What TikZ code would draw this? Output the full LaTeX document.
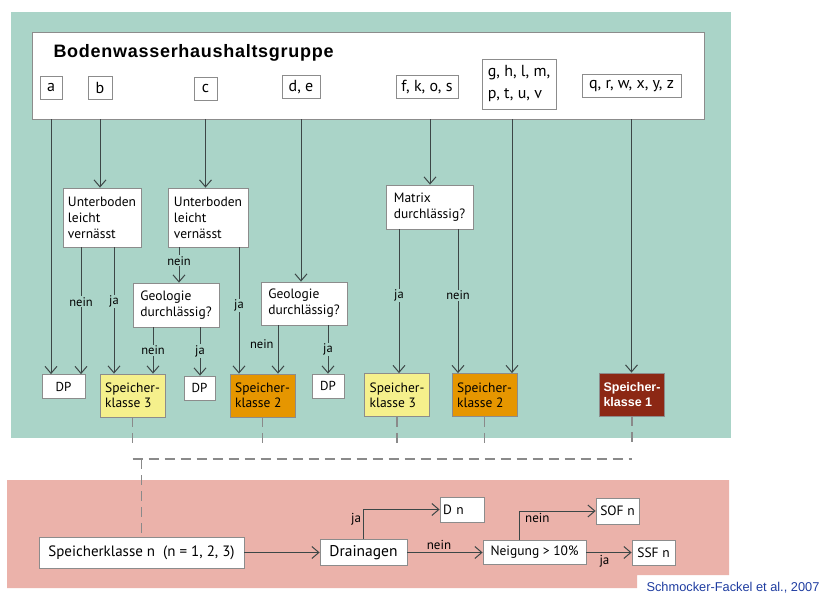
\documentclass[tikz,border=0pt]{standalone}
\usepackage{fontspec}
\setmainfont{PT Sans}
\newfontfamily\arialfont{Liberation Sans}
\newfontfamily\titlefont{Liberation Sans}[LetterSpace=4]
\usetikzlibrary{arrows.meta}

\definecolor{bggreen}{HTML}{AAD4C8}
\definecolor{bgpink}{HTML}{EBB2AA}
\definecolor{klgelb}{HTML}{F5F08C}
\definecolor{klorange}{HTML}{E69600}
\definecolor{klrot}{HTML}{8C2814}
\definecolor{boxgray}{HTML}{8C8C8C}
\definecolor{linegray}{HTML}{3C4646}
\definecolor{dashgray}{HTML}{8A8A8A}
\definecolor{citeblue}{HTML}{1E3CA0}

\begin{document}
\begin{tikzpicture}[x=1pt,y=-1pt,
  box/.style={draw=boxgray, fill=white, line width=0.8pt, inner sep=0pt},
  grp/.style={box, font=\fontsize{16}{22}\selectfont, minimum height=23pt},
  ask/.style={box, align=left, font=\fontsize{13.5}{16}\selectfont, inner xsep=5pt},
  kl/.style={box, align=left, font=\fontsize{13.5}{15}\selectfont, minimum width=65pt, minimum height=43pt},
  dp/.style={box, font=\fontsize{13}{15}\selectfont, minimum height=24pt},
  unten/.style={box, font=\fontsize{13.5}{16}\selectfont},
  arr/.style={draw=linegray, line width=1pt, -{Straight Barb[length=7pt,width=12pt]}},
  lbl/.style={fill=bggreen, inner sep=1pt, font=\fontsize{12.5}{14}\selectfont},
  lblb/.style={inner sep=2pt, font=\fontsize{13}{14}\selectfont},
  dsh/.style={draw=dashgray, line width=1.2pt, dash pattern=on 10pt off 6pt},
]
\useasboundingbox (0,0) rectangle (830,594);

% Hintergrund
\fill[bggreen] (11,12) rectangle (731,438);
\fill[bgpink] (7,480) -- (729,480) -- (729,575) -- (637,575) -- (637,588) -- (7,588) -- cycle;

% Bodenwasserhaushaltsgruppe
\node[box, minimum width=672pt, minimum height=87pt] (top) at (368,75.5) {};
\node[anchor=west, font=\titlefont\bfseries\fontsize{18}{20}\selectfont] (title) at (50,53) {Bodenwasserhaushaltsgruppe};
\node[grp, minimum width=22pt] (ga) at (51,87.5) {a};
\node[grp, minimum width=24pt] (gb) at (100,87.5) {b};
\node[grp, minimum width=23pt] (gc) at (205.5,88.5) {c};
\node[grp, minimum width=38pt] (gde) at (301,87) {d, e};
\node[grp, minimum width=62pt] (gf) at (427,87) {f, k, o, s};
\node[grp, minimum width=74pt, minimum height=50pt, align=left] (gg) at (519,84) {g, h, l, m,\\p, t, u, v};
\node[grp, minimum width=99pt] (gq) at (631.5,86) {q, r, w, x, y, z};

% Fragen
\node[ask, minimum width=78pt, minimum height=59pt] (ub1) at (102,217.5) {Unterboden\\leicht\\vernässt};
\node[ask, minimum width=80pt, minimum height=59pt] (ub2) at (208,217.5) {Unterboden\\leicht\\vernässt};
\node[ask, minimum width=86pt, minimum height=44pt] (geo1) at (176,305) {Geologie\\durchlässig?};
\node[ask, minimum width=86pt, minimum height=43pt] (geo2) at (304,303.5) {Geologie\\durchlässig?};
\node[ask, minimum width=87pt, minimum height=44pt] (mat) at (429.5,207) {Matrix\\durchlässig?};

% Speicherklassen
\node[dp, minimum width=43pt] (dp1) at (63.5,386.5) {DP};
\node[kl, fill=klgelb] (k3a) at (132.5,395.5) {Speicher-\\klasse 3};
\node[dp, minimum width=31pt] (dp2) at (199.5,388) {DP};
\node[kl, fill=klorange] (k2a) at (262.5,395.5) {Speicher-\\klasse 2};
\node[dp, minimum width=32pt] (dp3) at (328,386) {DP};
\node[kl, fill=klgelb] (k3b) at (397,395) {Speicher-\\klasse 3};
\node[kl, fill=klorange] (k2b) at (484.5,395) {Speicher-\\klasse 2};
\node[kl, fill=klrot, text=white, font=\arialfont\bfseries\fontsize{12.5}{15}\selectfont] (k1) at (632,394.5) {Speicher-\\klasse 1};

% Abflussprozesse
\node[unten, font=\fontsize{15}{16}\selectfont, minimum width=205pt, minimum height=31pt] (skn) at (141.5,552.5) {Speicherklasse n\ \ (n = 1, 2, 3)};
\node[unten, font=\fontsize{15.5}{16}\selectfont, minimum width=87pt, minimum height=26pt] (drain) at (363.5,552.5) {Drainagen};
\node[unten, text width=38pt, inner xsep=3pt, minimum height=25pt] (dn) at (462,509.5) {D n};
\node[unten, minimum width=103pt, minimum height=24pt] (neig) at (534.5,552.5) {Neigung > 10\%};
\node[unten, minimum width=43pt, minimum height=26pt] (sof) at (617.5,511) {SOF n};
\node[unten, minimum width=43pt, minimum height=25pt] (ssf) at (653.5,552.5) {SSF n};
\node[anchor=west, text=citeblue, font=\arialfont\fontsize{12.8}{15}\selectfont] (cite) at (643,588) {Schmocker-Fackel et al., 2007};

% Linien-x
\foreach \n/\x in {xf/430, xg/512, x1n/81, x1j/114, x2n/179, x2j/239, x3n/153, x3j/200,
                   x4n/278, x4j/328, x5j/399, x5n/458, xs/519}
  \coordinate (\n) at (\x,0);
\coordinate (dl) at (0,448);
\coordinate (hl) at (0,459);

% Pfeile oben
\draw[arr] (ga |- top.south) -- (ga |- dp1.north);
\draw[arr] (gb |- top.south) -- (gb |- ub1.north);
\draw[arr] (gc |- top.south) -- (gc |- ub2.north);
\draw[arr] (gde |- top.south) -- (gde |- geo2.north);
\draw[arr] (xf |- top.south) -- (xf |- mat.north);
\draw[arr] (xg |- top.south) -- (xg |- k2b.north);
\draw[arr] (gq |- top.south) -- (gq |- k1.north);

\draw[arr] (x1n |- ub1.south) -- node[lbl, pos=.43] {nein} (x1n |- dp1.north);
\draw[arr] (x1j |- ub1.south) -- node[lbl, pos=.43] {ja} (x1j |- k3a.north);
\draw[arr] (x2n |- ub2.south) -- node[lbl, pos=.38] {nein} (x2n |- geo1.north);
\draw[arr] (x2j |- ub2.south) -- node[lbl, pos=.46] {ja} (x2j |- k2a.north);
\draw[arr] (x3n |- geo1.south) -- node[lbl, pos=.49] {nein} (x3n |- k3a.north);
\draw[arr] (x3j |- geo1.south) -- node[lbl, pos=.49] {ja} (x3j |- dp2.north);
\draw[arr] (x4n |- geo2.south) -- node[lbl, pos=.39, left=3pt, fill=none] {nein} (x4n |- k2a.north);
\draw[arr] (x4j |- geo2.south) -- node[lbl, pos=.5] {ja} (x4j |- dp3.north);
\draw[arr] (x5j |- mat.south) -- node[lbl, pos=.46] {ja} (x5j |- k3b.north);
\draw[arr] (x5n |- mat.south) -- node[lbl, pos=.46] {nein} (x5n |- k2b.north);

% gestrichelte Verbindung
\foreach \k in {k3a,k2a,k3b,k2b,k1}
  \draw[dsh] (\k.south) -- (\k.south |- dl);
\draw[dsh] (k3a.south |- hl) -- (k1.south |- hl);
\draw[dsh] (skn.north |- hl) -- (skn.north);

% Pfeile unten
\draw[arr] (skn) -- (drain);
\draw[arr] (drain.north) |- node[lblb, pos=.33, left] {ja} (dn);
\draw[arr] (drain) -- node[lblb, above, pos=.42] {nein} (neig);
\draw[arr] (xs |- neig.north) |- node[lblb, pos=.62, below] {nein} (sof);
\draw[arr] (neig) -- node[lblb, below, pos=.4] {ja} (ssf);
\end{tikzpicture}
\end{document}
